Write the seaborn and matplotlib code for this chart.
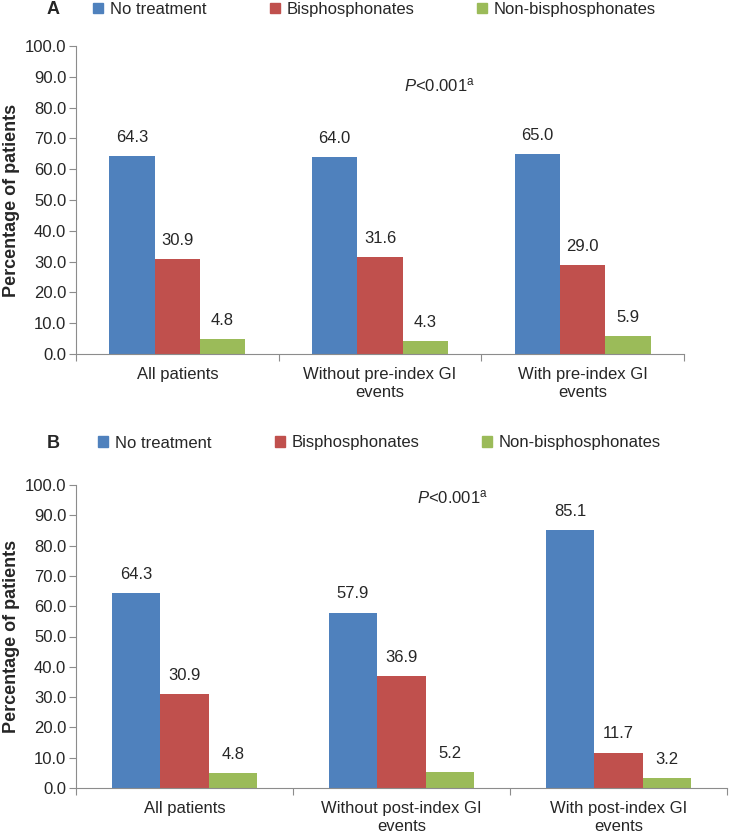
import numpy as np
import pandas as pd
import seaborn as sns
import matplotlib.pyplot as plt
from matplotlib.patches import Patch
from matplotlib.ticker import FormatStrFormatter

treatments = ["No treatment", "Bisphosphonates", "Non-bisphosphonates"]
colors = ["#4F81BD", "#C0504D", "#9BBB59"]

groups_a = ["All patients", "Without pre-index GI\nevents", "With pre-index GI\nevents"]
no_treat_a = [64.3, 64.0, 65.0]
bis_a = [30.9, 31.6, 29.0]
nonbis_a = [4.8, 4.3, 5.9]

groups_b = ["All patients", "Without post-index GI\nevents", "With post-index GI\nevents"]
no_treat_b = [64.3, 57.9, 85.1]
bis_b = [30.9, 36.9, 11.7]
nonbis_b = [4.8, 5.2, 3.2]


def make_df(groups, *series):
    rows = []
    for name, vals in zip(treatments, series):
        for g, v in zip(groups, vals):
            rows.append({"group": g, "treatment": name, "pct": v})
    return pd.DataFrame(rows)


sns.set_style("white")
plt.rcParams["font.family"] = ["Liberation Sans", "DejaVu Sans"]
plt.rcParams["mathtext.fontset"] = "custom"
plt.rcParams["mathtext.rm"] = "Liberation Sans"
plt.rcParams["mathtext.it"] = "Liberation Sans:italic"

fig = plt.figure(figsize=(7.29, 8.35), dpi=100)
W, H = 729, 835
ax_a = fig.add_axes([76 / W, 1 - 354 / H, (684 - 76) / W, 308 / H])
ax_b = fig.add_axes([76 / W, 1 - 788 / H, (727 - 76) / W, 303 / H])

panels = [
    (ax_a, make_df(groups_a, no_treat_a, bis_a, nonbis_a), "A", 9.5, 93, (1.12, 87.3)),
    (ax_b, make_df(groups_b, no_treat_b, bis_b, nonbis_b), "B", 443, 98, (1.07, 96)),
]

gray = "#8C8C8C"
for ax, df, letter, ly, lx, ppos in panels:
    sns.barplot(data=df, x="group", y="pct", hue="treatment", palette=colors,
                width=0.67, gap=0, saturation=1, ax=ax, edgecolor="none")
    for c in ax.containers:
        ax.bar_label(c, fmt="%.1f", padding=8, fontsize=12)
    ax.set_ylim(0, 100)
    ax.set_xlim(-0.5, 2.5)
    ax.set_yticks(np.arange(0, 101, 10))
    ax.yaxis.set_major_formatter(FormatStrFormatter("%.1f"))
    ax.set_xticks([-0.5, 0.5, 1.5, 2.5], minor=True)
    ax.tick_params(axis="x", which="major", length=0, pad=9, labelsize=12)
    ax.tick_params(axis="x", which="minor", length=5, color=gray, width=0.8, bottom=True)
    ax.tick_params(axis="y", length=5, color=gray, width=0.8, pad=2, labelsize=12, left=True)
    for lab in ax.get_xticklabels():
        lab.set_linespacing(1.3)
    for s in ["top", "right"]:
        ax.spines[s].set_visible(False)
    for s in ["left", "bottom"]:
        ax.spines[s].set_color(gray)
        ax.spines[s].set_linewidth(0.8)
    ax.set_xlabel("")
    ax.set_ylabel("Percentage of patients", fontsize=13, fontweight="bold")
    # put the label's right edge about 56 px left of the spine
    axw = ax.get_position().width * W
    ax.yaxis.set_label_coords(-56 / axw, 0.5)
    ax.text(ppos[0], ppos[1], r"$P$<0.001$^{\mathrm{a}}$", fontsize=12, ha="left", va="center")

    handles = [Patch(color=c) for c in colors]
    ax.legend(handles, treatments, loc="center left", bbox_to_anchor=(lx / W, 1 - ly / H),
              bbox_transform=fig.transFigure, ncol=3, frameon=False, handlelength=0.6,
              handleheight=0.6, handletextpad=0.4, columnspacing=3.8, borderpad=0,
              borderaxespad=0, fontsize=12)
    fig.text(53 / W, 1 - ly / H, letter, fontsize=13, fontweight="bold", ha="center", va="center")

fig.savefig("out.png", dpi=100)
